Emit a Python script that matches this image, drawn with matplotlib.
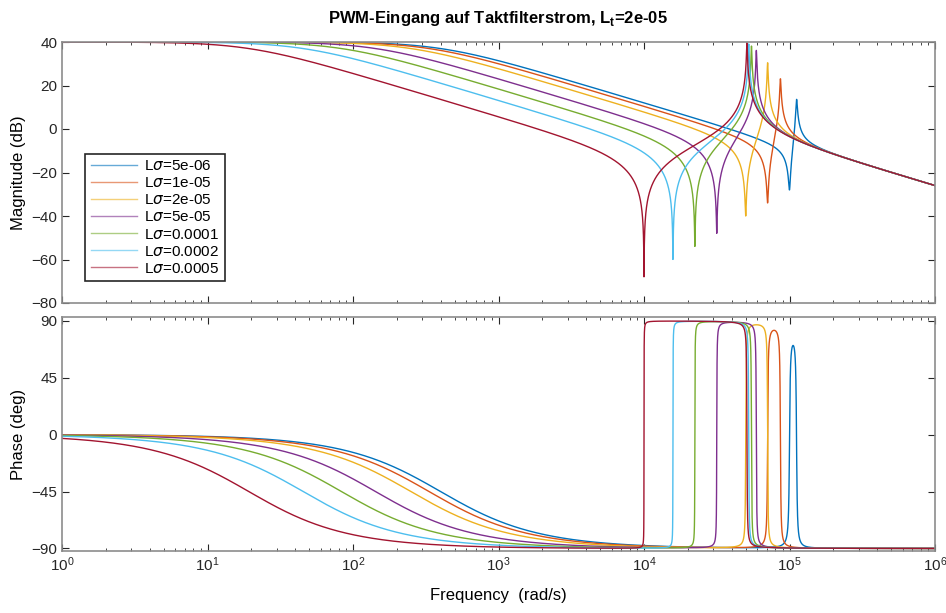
import numpy as np
import matplotlib
matplotlib.use('Agg')
import matplotlib.pyplot as plt

plt.rcParams['font.family'] = ['Liberation Sans', 'DejaVu Sans']

L_sigma = [5e-06, 1e-05, 2e-05, 5e-05, 0.0001, 0.0002, 0.0005]
labels = ['L$\\sigma$=5e-06', 'L$\\sigma$=1e-05', 'L$\\sigma$=2e-05', 'L$\\sigma$=5e-05',
          'L$\\sigma$=0.0001', 'L$\\sigma$=0.0002', 'L$\\sigma$=0.0005']
L_t = 2e-05
C = 2e-05      # filter capacitor
R_s = 0.005    # series resistance (source / Lt)
R_L = 0.005    # resistance of Lsigma
R_c = 0.005    # damping in capacitor branch

colors = [(0, 0.447, 0.741), (0.85, 0.325, 0.098), (0.929, 0.694, 0.125),
          (0.494, 0.184, 0.556), (0.466, 0.674, 0.188), (0.301, 0.745, 0.933),
          (0.635, 0.078, 0.184)]

w = np.logspace(0, 6, 40000)
s = 1j * w

fig = plt.figure(figsize=(9.46, 6.13), dpi=100)
ax1 = fig.add_axes([62/946, 1-303/613, 873/946, 261/613])
ax2 = fig.add_axes([62/946, 1-551/613, 873/946, 234/613])

for Ls, lab, c in zip(L_sigma, labels, colors):
    Zl = R_L + s*Ls
    Zc = R_c + 1/(s*C)
    Zp = Zl*Zc/(Zl + Zc)
    G = 1/(R_s + s*L_t + Zp)
    ax1.semilogx(w, 20*np.log10(np.abs(G)), color=c, lw=1, label=lab)
    ax2.semilogx(w, np.degrees(np.angle(G)), color=c, lw=1)

grey = (0.15, 0.15, 0.15)
for ax in (ax1, ax2):
    ax.set_xlim(1, 1e6)
    ax.tick_params(direction='in', which='both', top=True, right=True,
                   colors=grey, labelsize=11)
    ax.tick_params(which='major', length=5)
    ax.tick_params(which='minor', length=2.5)
    for sp in ax.spines.values():
        sp.set_color((0.55, 0.55, 0.55))
        sp.set_linewidth(1.2)

ax1.set_ylim(-80, 40)
ax1.set_yticks(np.arange(-80, 41, 20))
ax1.set_xticklabels([])
ax1.set_ylabel('Magnitude (dB)', fontsize=12)
ax1.set_title('PWM-Eingang auf Taktfilterstrom, L$_\\mathregular{t}$=2e-05',
              fontsize=12, fontweight='bold', pad=14)

ax2.set_ylim(-92, 93)
ax2.set_yticks([-90, -45, 0, 45, 90])
ax2.set_ylabel('Phase (deg)', fontsize=12)
ax2.set_xlabel('Frequency  (rad/s)', fontsize=12, labelpad=10)

leg = ax1.legend(loc='lower left', bbox_to_anchor=(0.018, 0.055), fontsize=11,
                 fancybox=False, edgecolor=(0.15, 0.15, 0.15), framealpha=1,
                 handlelength=3.0, borderpad=0.35, labelspacing=0.2,
                 handletextpad=0.5)
leg.get_frame().set_linewidth(1.2)
for h in leg.get_lines():
    h.set_alpha(0.6)

fig.savefig('out.png', dpi=100)
